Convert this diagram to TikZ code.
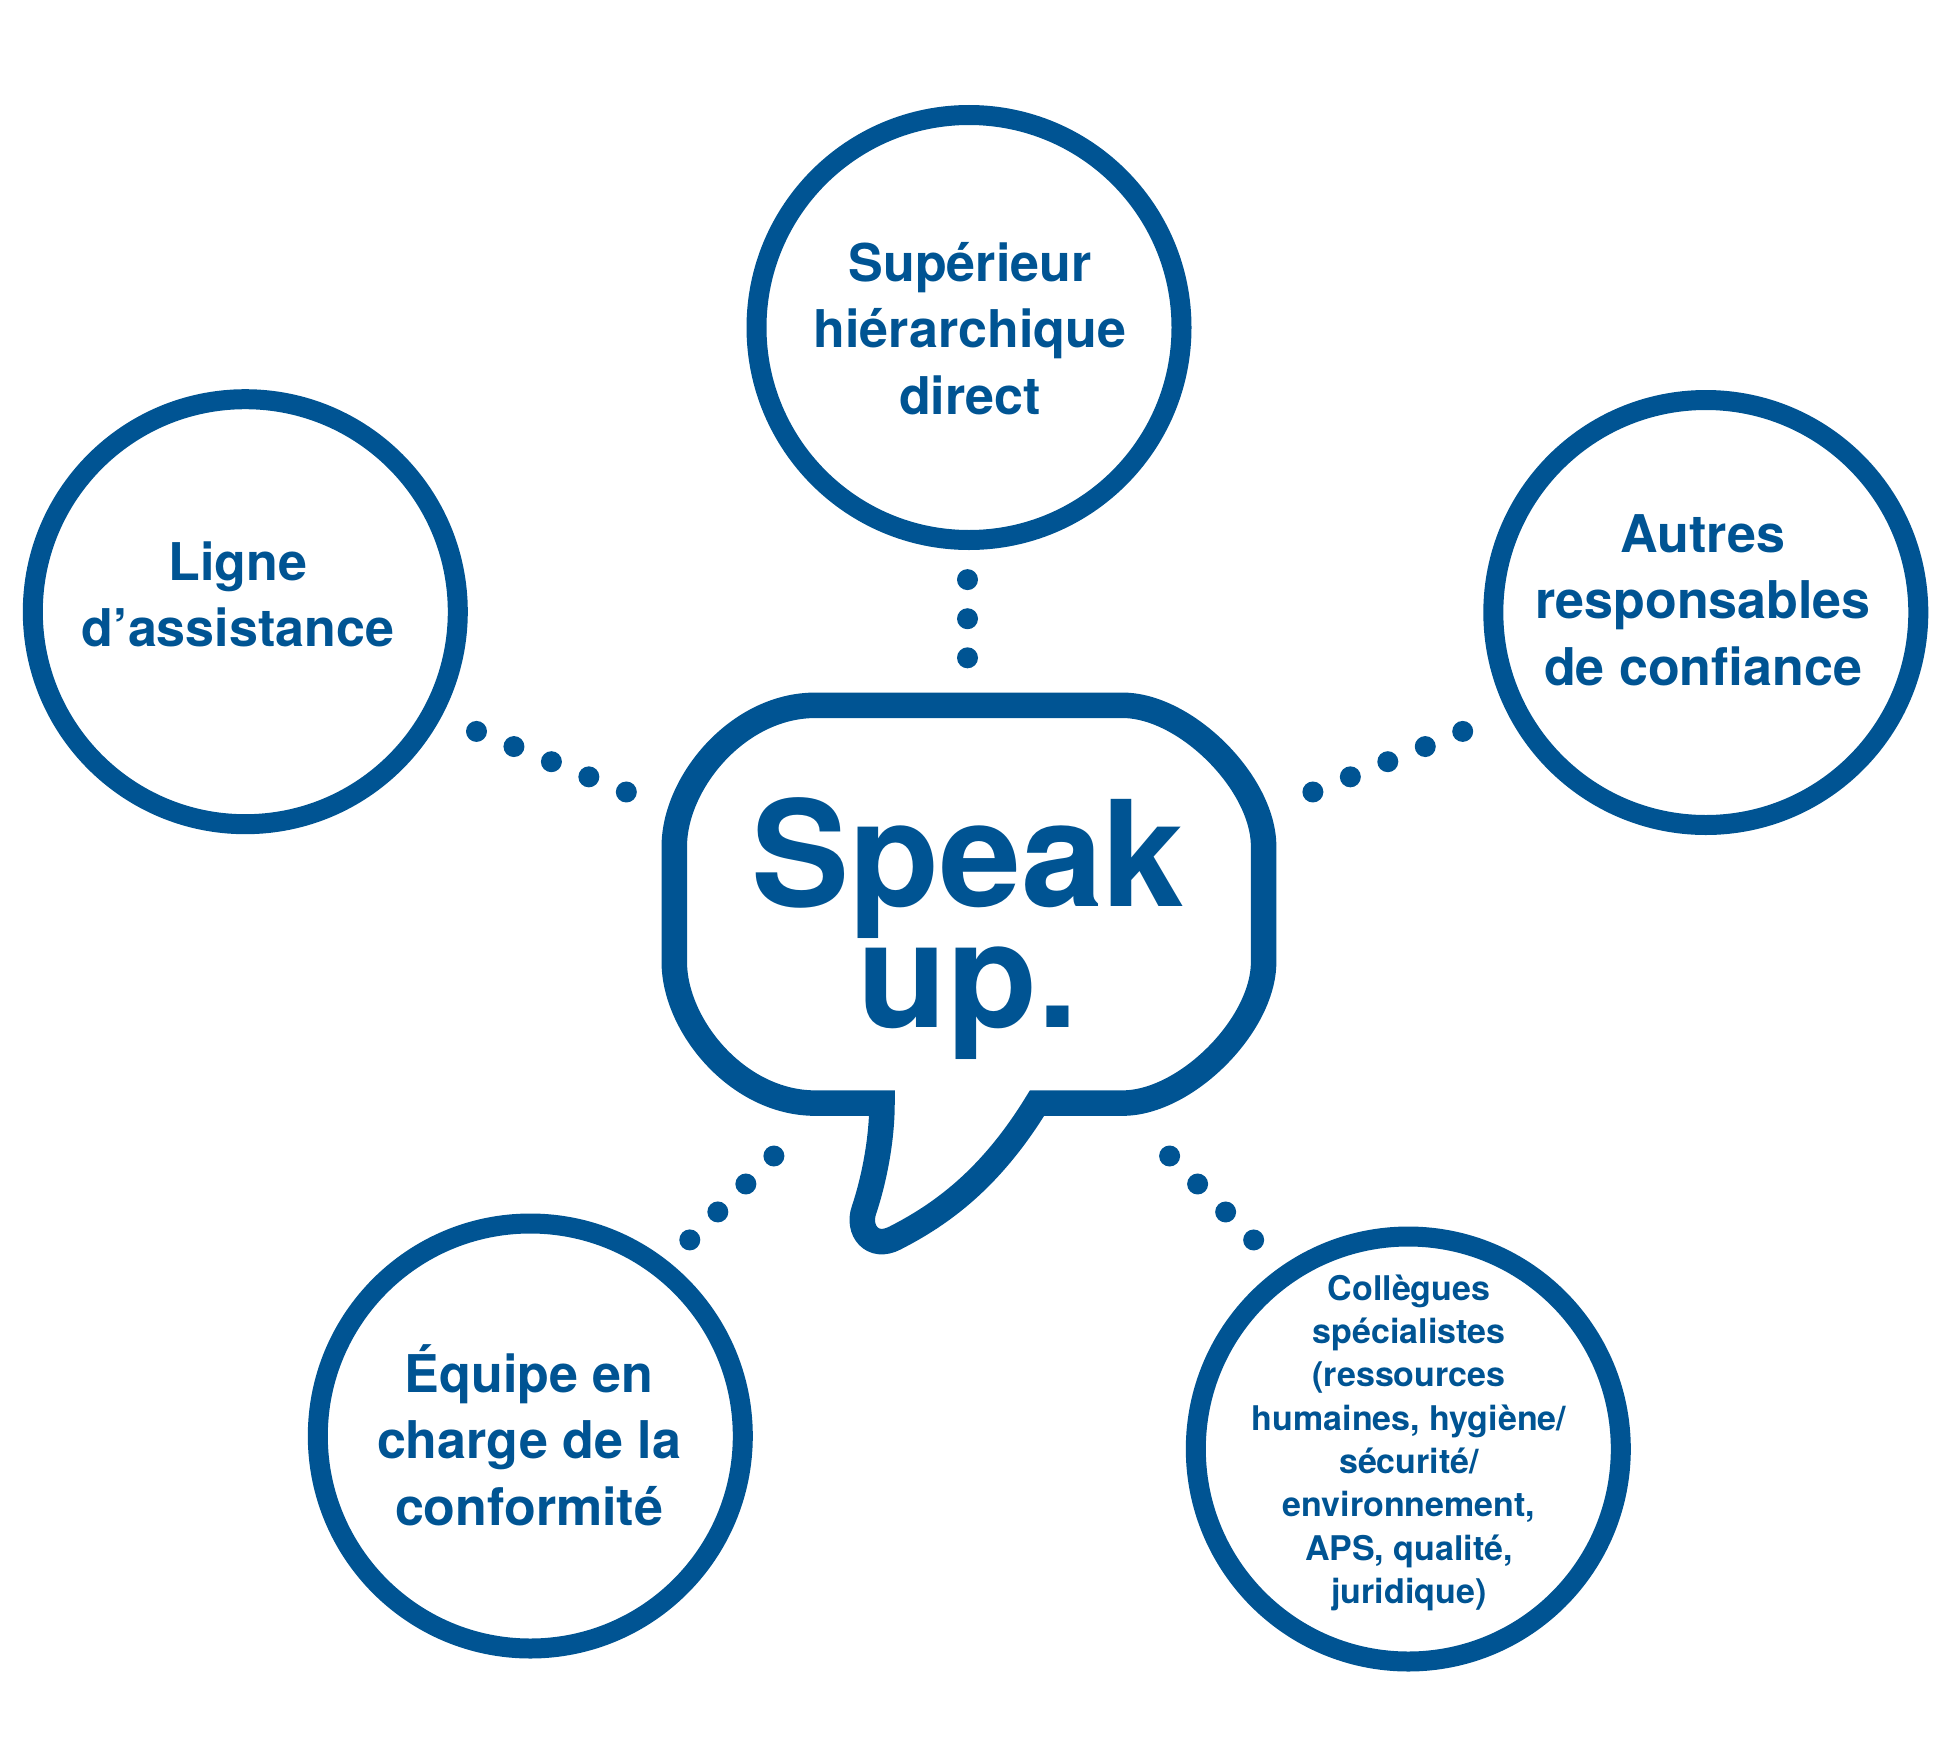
\documentclass[tikz,border=0pt]{standalone}
\usepackage{fontspec}
\setmainfont{TeX Gyre Heros}
\definecolor{spblue}{RGB}{0,84,147}
\begin{document}
\begin{tikzpicture}[x=1pt,y=-1pt,
  ring/.style={circle,draw=spblue,line width=20pt,minimum size=425pt,inner sep=0pt},
  ringtext/.style={anchor=base,align=center,text=spblue,inner sep=0pt,
    font=\bfseries\fontsize{52}{66.2}\selectfont},
  smalltext/.style={anchor=base,align=center,text=spblue,inner sep=0pt,
    font=\bfseries\fontsize{34}{43.3}\selectfont},
  dotline/.style={draw=spblue,line width=21pt,line cap=round},
  bubble/.style={draw=spblue,line width=25.5pt}]
\useasboundingbox (0,0) rectangle (1951,1737);

% circles
\node[ring] (sup) at (969,327.5) {};
\node[ring] (lig) at (245.3,611.7) {};
\node[ring] (aut) at (1705.8,612.5) {};
\node[ring] (equ) at (530.3,1436) {};
\node[ring] (col) at (1408.3,1449) {};

% texts (anchor base = baseline of the last line)
\node[ringtext] (tsup) at (970,414) {Supérieur\\hiérarchique\\direct};
\node[ringtext] (tlig) at (238,646.7) {Ligne\\d’assistance};
\node[ringtext] (taut) at (1703,685) {Autres\\responsables\\de confiance};
\node[ringtext] (tequ) at (529,1525) {Équipe en\\charge de la\\conformité};
\node[smalltext] (tcol) at (1409,1603.3) {Collègues\\spécialistes\\(ressources\\humaines, hygiène/\\sécurité/\\environnement,\\APS, qualité,\\juridique)};

% speech bubble
\draw[bubble] (882,1103.1) -- (815.3,1103.1)
  .. controls (737.4,1103.1) and (674.3,1025.2) .. (674.3,962.1)
  -- (674.3,846.3)
  .. controls (674.3,783.2) and (737.4,705.3) .. (815.3,705.3)
  -- (1122.6,705.3)
  .. controls (1185.7,705.3) and (1263.6,783.2) .. (1263.6,846.3)
  -- (1263.6,962.1)
  .. controls (1263.6,1025.2) and (1185.7,1103.1) .. (1122.6,1103.1)
  -- (1037,1103.1)
  .. controls (990,1180) and (940,1215) .. (895,1238)
  .. controls (872,1250) and (857,1230) .. (864,1210)
  .. controls (874,1180) and (882,1140) .. (882,1103.1) -- cycle;
\node[anchor=base,align=center,text=spblue,inner sep=0pt,
  font=\bfseries\fontsize{147}{121}\selectfont] (speak) at (968,1027) {Speak\\up.\hspace{12pt}};

% dotted connectors
\coordinate (s1) at (967.5,579.6); \coordinate (s2) at (967.5,658);
\coordinate (l1) at (476.5,731.4); \coordinate (l2) at (626.6,792.1);
\coordinate (a1) at (1462.7,731.4); \coordinate (a2) at (1312.6,792.1);
\coordinate (e1) at (773.9,1156); \coordinate (e2) at (689.7,1240);
\coordinate (c1) at (1169.6,1156); \coordinate (c2) at (1253.7,1240);
\draw[dotline,dash pattern=on 0pt off 39.1pt] (s1) -- (s2);
\draw[dotline,dash pattern=on 0pt off 40.4pt] (l1) -- (l2);
\draw[dotline,dash pattern=on 0pt off 40.4pt] (a1) -- (a2);
\draw[dotline,dash pattern=on 0pt off 39.6pt] (e1) -- (e2);
\draw[dotline,dash pattern=on 0pt off 39.6pt] (c1) -- (c2);
\end{tikzpicture}
\end{document}
